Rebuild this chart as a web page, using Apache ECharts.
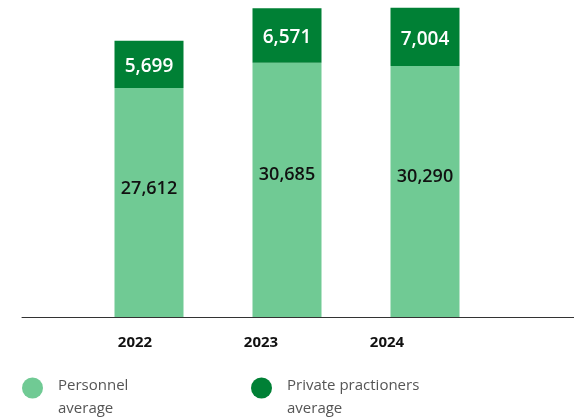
<!DOCTYPE html>
<html>
<head>
<meta charset="utf-8">
<script src="https://cdn.jsdelivr.net/npm/echarts@6/dist/echarts.min.js"></script>
<style>
  html, body { margin: 0; padding: 0; background: #fff; }
  #chart { width: 574px; height: 417px; }
</style>
</head>
<body>
<div id="chart"></div>
<script>
// Average figures per year, stacked: personnel at the bottom, private practitioners on top
const years = ['2022', '2023', '2024'];
const personnelAvg = [27612, 30685, 30290];
const privateAvg = [5699, 6571, 7004];
const seriesNames = ['Personnel average', 'Private practioners average'];
const legendLines = [['Personnel', 'average'], ['Private practioners', 'average']];

const LIGHT = '#70ca94';
const DARK = '#008035';
const FONT = '"Open Sans", sans-serif';

const fmt = v => v.toLocaleString('en-US');

// legend entry: a short spacer line first so the first text line sits beside the dot
function legendFor(idx, left) {
  return {
    data: [seriesNames[idx]], left: left, top: 360, padding: 0, icon: 'circle',
    itemWidth: 21, itemHeight: 21, itemGap: 0, itemTextGap: 15,
    selectedMode: false,
    formatter: () => '{s| }\n{t|' + legendLines[idx][0] + '}\n{t|' + legendLines[idx][1] + '}',
    textStyle: {
      color: '#555', fontFamily: FONT, fontSize: 15,
      rich: {
        s: { fontSize: 10, lineHeight: 18 },
        t: { color: '#555', fontFamily: FONT, fontSize: 15, lineHeight: 23, padding: [0, 0, 0, 10] }
      }
    }
  };
}

const chart = echarts.init(document.getElementById('chart'));

chart.setOption({
  animation: false,
  backgroundColor: '#fff',
  grid: [
    // bars
    { left: 80, width: 414, top: 2, bottom: 100 },
    // year labels under the bars
    { left: 72, width: 378, top: 2, bottom: 100 },
    // baseline across the full width
    { left: 22, right: 0, top: 2, bottom: 100 }
  ],
  xAxis: [
    {
      gridIndex: 0, type: 'category', data: years,
      axisLine: { show: false }, axisTick: { show: false }, axisLabel: { show: false }
    },
    {
      gridIndex: 1, type: 'category', data: years,
      axisLine: { show: false }, axisTick: { show: false },
      axisLabel: { margin: 18, color: '#111', fontFamily: FONT, fontWeight: 'bold', fontSize: 15 }
    },
    {
      gridIndex: 2, type: 'value', min: 0, max: 1,
      axisLine: { show: true, lineStyle: { color: '#333', width: 1 } },
      axisTick: { show: false }, axisLabel: { show: false }, splitLine: { show: false }
    }
  ],
  yAxis: [
    { gridIndex: 0, type: 'value', min: 0, max: 38000, show: false, splitLine: { show: false } },
    { gridIndex: 1, type: 'value', show: false, splitLine: { show: false } },
    { gridIndex: 2, type: 'value', show: false, splitLine: { show: false } }
  ],
  legend: [legendFor(0, 22), legendFor(1, 251)],
  series: [
    {
      name: seriesNames[0], type: 'bar', stack: 'avg',
      xAxisIndex: 0, yAxisIndex: 0, barWidth: 69,
      data: personnelAvg,
      itemStyle: { color: LIGHT },
      label: {
        show: true, position: ['50%', '44%'], align: 'center', verticalAlign: 'middle',
        color: '#111', fontFamily: FONT, fontSize: 18, fontWeight: 600,
        formatter: p => fmt(p.value)
      }
    },
    {
      name: seriesNames[1], type: 'bar', stack: 'avg',
      xAxisIndex: 0, yAxisIndex: 0, barWidth: 69,
      data: privateAvg,
      itemStyle: { color: DARK },
      label: {
        show: true, position: ['50%', '54%'], align: 'center', verticalAlign: 'middle',
        color: '#fff', fontFamily: FONT, fontSize: 19, fontWeight: 600,
        formatter: p => fmt(p.value)
      }
    }
  ]
});
</script>
</body>
</html>
